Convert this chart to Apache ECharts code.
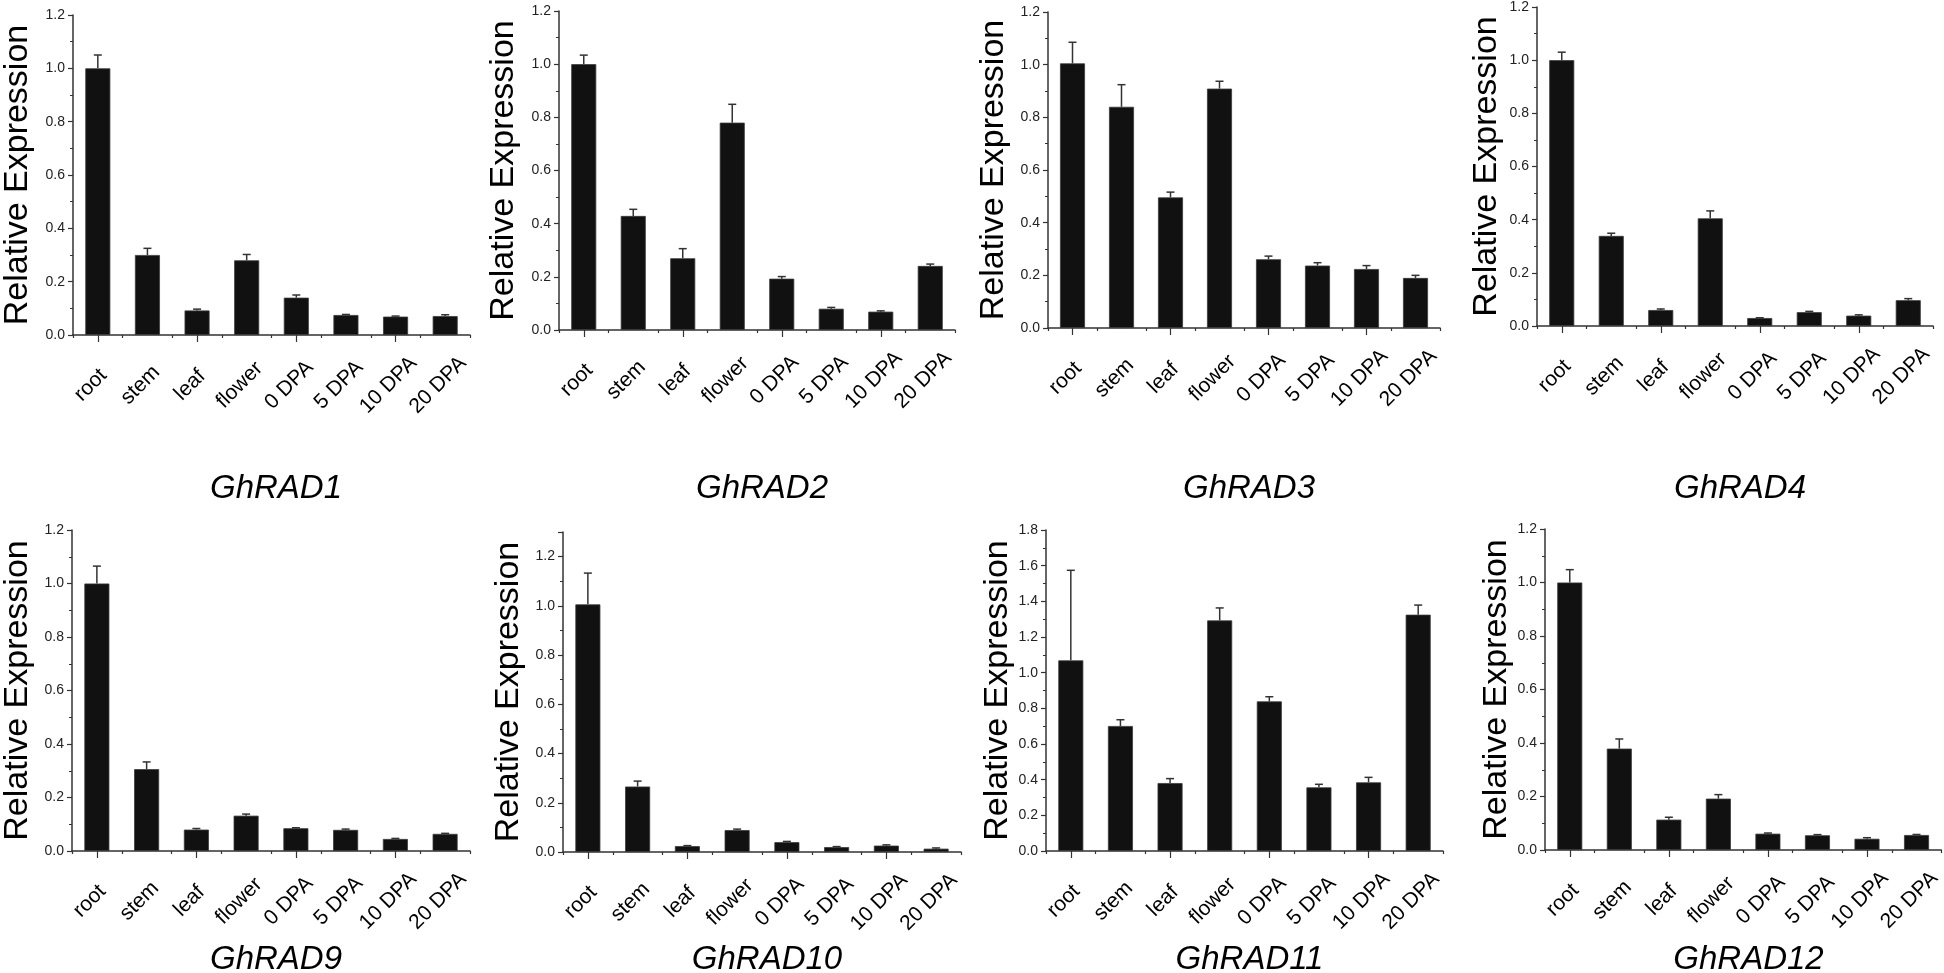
<!DOCTYPE html>
<html><head><meta charset="utf-8">
<script src="https://cdn.jsdelivr.net/npm/echarts@6/dist/echarts.min.js"></script>
<style>html,body{margin:0;padding:0;background:#fff}#c{width:1944px;height:973px}</style>
</head><body><div id="c"></div>
<script>
const categories = ['root','stem','leaf','flower','0 DPA','5 DPA','10 DPA','20 DPA'];
const genes = ['GhRAD1','GhRAD2','GhRAD3','GhRAD4','GhRAD9','GhRAD10','GhRAD11','GhRAD12'];

const rad1 = [1.00, 0.30, 0.092, 0.28, 0.14, 0.075, 0.069, 0.071];
const rad1Err = [0.05, 0.025, 0.005, 0.022, 0.01, 0.002, 0.002, 0.005];
const rad2 = [1.00, 0.429, 0.27, 0.78, 0.193, 0.08, 0.069, 0.241];
const rad2Err = [0.034, 0.025, 0.036, 0.069, 0.008, 0.005, 0.003, 0.007];
const rad3 = [1.005, 0.84, 0.496, 0.909, 0.261, 0.237, 0.224, 0.19];
const rad3Err = [0.08, 0.084, 0.02, 0.028, 0.012, 0.011, 0.013, 0.01];
const rad4 = [1.00, 0.339, 0.06, 0.405, 0.03, 0.052, 0.039, 0.097];
const rad4Err = [0.03, 0.01, 0.004, 0.028, 0.001, 0.003, 0.003, 0.006];
const rad9 = [1.00, 0.306, 0.08, 0.132, 0.085, 0.079, 0.045, 0.064];
const rad9Err = [0.065, 0.027, 0.004, 0.006, 0.002, 0.003, 0.002, 0.002];
const rad10 = [1.006, 0.266, 0.024, 0.089, 0.04, 0.02, 0.026, 0.0135];
const rad10Err = [0.127, 0.022, 0.002, 0.004, 0.003, 0.002, 0.003, 0.003];
const rad11 = [1.069, 0.701, 0.381, 1.293, 0.839, 0.357, 0.385, 1.325];
const rad11Err = [0.505, 0.035, 0.025, 0.07, 0.026, 0.017, 0.028, 0.054];
const rad12 = [1.00, 0.379, 0.1135, 0.192, 0.061, 0.055, 0.042, 0.056];
const rad12Err = [0.048, 0.036, 0.009, 0.015, 0.0025, 0.0025, 0.004, 0.002];

const yMaxes = [1.2, 1.2, 1.2, 1.2, 1.2, 1.3, 1.8, 1.2];
const yInterval = 0.2;

const values = [rad1, rad2, rad3, rad4, rad9, rad10, rad11, rad12];
const errors = [rad1Err, rad2Err, rad3Err, rad4Err, rad9Err, rad10Err, rad11Err, rad12Err];

// layout (pixels)
const panels = [
  {left:72,   top:15,  width:398, height:320, nameGap:38, titleTop:467},
  {left:559,  top:11,  width:396, height:319, nameGap:38, titleTop:467},
  {left:1048, top:12,  width:392, height:316, nameGap:37, titleTop:467},
  {left:1537, top:5,   width:396, height:321, nameGap:33, titleTop:467},
  {left:72,   top:530, width:398, height:321, nameGap:37, titleTop:938},
  {left:563,  top:532, width:398, height:320, nameGap:37, titleTop:938},
  {left:1046, top:530, width:397, height:321, nameGap:31, titleTop:938},
  {left:1545, top:529, width:397, height:321, nameGap:29, titleTop:938}
];

const FONT = 'Arial, "Liberation Sans", sans-serif';
const AX = '#333';

const grid = [], xAxis = [], yAxis = [], series = [], title = [];
panels.forEach((p, i) => {
  grid.push({left:p.left, top:p.top, width:p.width, height:p.height, containLabel:false});
  title.push({
    text: genes[i], left: p.left + p.width/2, top: p.titleTop, textAlign:'center',
    textStyle:{fontSize:33, fontStyle:'italic', fontWeight:'normal', color:'#000', fontFamily:FONT}
  });
  xAxis.push({
    type:'category', gridIndex:i, data:categories, position:'bottom',
    axisLine:{show:true, lineStyle:{color:AX, width:1.5}},
    axisTick:{show:true, length:3, lineStyle:{color:AX, width:1.2}},
    axisLabel:{interval:0, rotate:45, align:'center', verticalAlign:'middle', margin:43,
      fontSize:21, color:'#000', fontFamily:FONT, padding:[0,20,20,0]},
    splitLine:{show:false}
  });
  yAxis.push({
    type:'value', gridIndex:i, min:0, max:yMaxes[i], interval:yInterval,
    name:'Relative Expression', nameLocation:'middle', nameGap:p.nameGap,
    nameTextStyle:{fontSize:34, color:'#000', fontFamily:FONT},
    axisLine:{show:true, lineStyle:{color:AX, width:1.5}},
    axisTick:{show:true, length:5, lineStyle:{color:AX, width:1.2}},
    minorTick:{show:true, splitNumber:2, length:3, lineStyle:{color:AX, width:1}},
    splitLine:{show:false},
    axisLabel:{margin:8, fontSize:14, color:'#222', fontFamily:FONT,
      showMaxLabel: (yMaxes[i] * 10) % 2 === 0 ? true : false,
      formatter: v => v.toFixed(1)}
  });
  series.push({
    type:'bar', xAxisIndex:i, yAxisIndex:i, data:values[i], barWidth:25,
    itemStyle:{color:'#111', borderColor:'#3a3a3a', borderWidth:0.8}, z:2, animation:false
  });
  series.push({
    type:'custom', xAxisIndex:i, yAxisIndex:i, z:3, animation:false,
    encode:{x:0, y:[1,2]},
    data: values[i].map((v, j) => [j, v, v + errors[i][j]]),
    renderItem: (params, api) => {
      const x = api.value(0);
      const p0 = api.coord([x, api.value(1)]);
      const p1 = api.coord([x, api.value(2)]);
      const hw = 4;
      return {type:'group', children:[
        {type:'line', shape:{x1:p0[0], y1:p0[1], x2:p1[0], y2:p1[1]}, style:{stroke:'#333', lineWidth:1.5}},
        {type:'line', shape:{x1:p1[0]-hw, y1:p1[1], x2:p1[0]+hw, y2:p1[1]}, style:{stroke:'#333', lineWidth:1.5}}
      ]};
    }
  });
});
// second x axes: ticks at category centres
panels.forEach((p, i) => {
  xAxis.push({
    type:'category', gridIndex:i, data:categories, position:'bottom',
    axisLine:{show:false}, axisLabel:{show:false}, splitLine:{show:false},
    axisTick:{show:true, alignWithLabel:true, length:7, lineStyle:{color:AX, width:1.2}}
  });
});

const chart = echarts.init(document.getElementById('c'), null, {renderer:'canvas'});
chart.setOption({backgroundColor:'#fff', animation:false, title, grid, xAxis, yAxis, series});
</script></body></html>
